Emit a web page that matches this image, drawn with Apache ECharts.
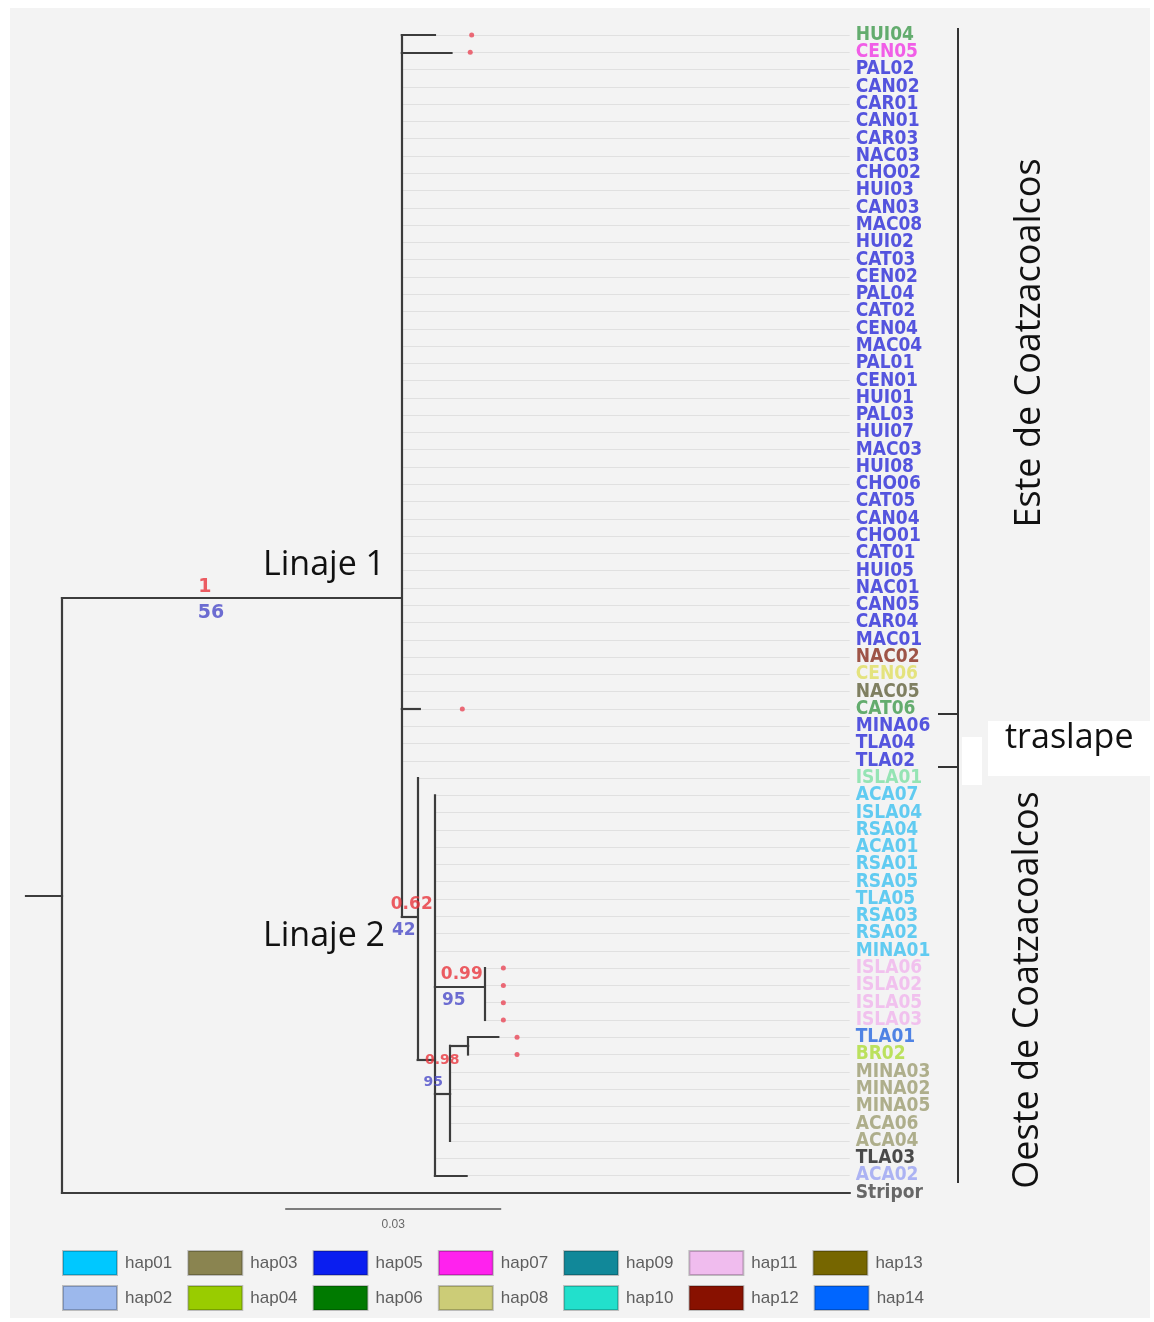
<!DOCTYPE html>
<html><head><meta charset="utf-8">
<script src="https://cdn.jsdelivr.net/npm/echarts@6/dist/echarts.min.js"></script>
<style>html,body{margin:0;padding:0;background:#fff;} #c{width:1154px;height:1322px;}</style>
</head><body><div id="c"></div>
<script>
// ---------------- DATA ----------------
const leafNames = ['HUI04','CEN05','PAL02','CAN02','CAR01','CAN01','CAR03','NAC03','CHO02','HUI03',
  'CAN03','MAC08','HUI02','CAT03','CEN02','PAL04','CAT02','CEN04','MAC04','PAL01',
  'CEN01','HUI01','PAL03','HUI07','MAC03','HUI08','CHO06','CAT05','CAN04','CHO01',
  'CAT01','HUI05','NAC01','CAN05','CAR04','MAC01','NAC02','CEN06','NAC05','CAT06',
  'MINA06','TLA04','TLA02','ISLA01','ACA07','ISLA04','RSA04','ACA01','RSA01','RSA05',
  'TLA05','RSA03','RSA02','MINA01','ISLA06','ISLA02','ISLA05','ISLA03','TLA01','BR02',
  'MINA03','MINA02','MINA05','ACA06','ACA04','TLA03','ACA02','Stripor'];
const leafHap = ['hap06','hap07','hap05','hap05','hap05','hap05','hap05','hap05','hap05','hap05',
  'hap05','hap05','hap05','hap05','hap05','hap05','hap05','hap05','hap05','hap05',
  'hap05','hap05','hap05','hap05','hap05','hap05','hap05','hap05','hap05','hap05',
  'hap05','hap05','hap05','hap05','hap05','hap05','hap12','hap08','hap13','hap06',
  'hap05','hap05','hap05','hap10','hap01','hap01','hap01','hap01','hap01','hap01',
  'hap01','hap01','hap01','hap01','hap11','hap11','hap11','hap11','hap14','hap04',
  'hap03','hap03','hap03','hap03','hap03','other','hap02','outgroup'];
const leafParent = ['A','A','A','A','A','A','A','A','A','A',
  'A','A','A','A','A','A','A','A','A','A',
  'A','A','A','A','A','A','A','A','A','A',
  'A','A','A','A','A','A','A','A','A','A',
  'A','A','A','B','C','C','C','C','C','C',
  'C','C','C','C','G','G','G','G','E','E',
  'D','D','D','D','D','C','C','root'];
const leafLength = [0.0046,0.0069,0,0,0,0,0,0,0,0,
  0,0,0,0,0,0,0,0,0,0,
  0,0,0,0,0,0,0,0,0,0,
  0,0,0,0,0,0,0,0,0,0.0025,
  0,0,0,0,0,0,0,0,0,0,
  0,0,0,0,0,0,0,0,0.0042,0,
  0,0,0,0,0,0,0.0044,0.1094];
const nodeNames  = ['root','A','B','C','G','D','E'];
const nodeParent = [null,'root','A','B','C','C','D'];
const nodeLength = [0,0.0472,0.0022,0.0024,0.0069,0.0021,0.0025];
const nodeRow    = [null,32.58,51.04,59.3,55.1,null,null];   // null -> midpoint of children
const supportNode      = ['A','B','C','G'];
const supportPosterior = ['1','0.62','0.98','0.99'];
const supportBootstrap = ['56','42','95','95'];
const tipDotLeaf = ['HUI04','CEN05','CAT06','ISLA06','ISLA02','ISLA05','ISLA03','TLA01','BR02'];
const tipDotX    = [0.0569,0.0567,0.0556,0.0613,0.0613,0.0613,0.0613,0.0632,0.0632];
const hapNames  = ['hap01','hap02','hap03','hap04','hap05','hap06','hap07','hap08','hap09','hap10','hap11','hap12','hap13','hap14'];
const hapColors = ['#00c8ff','#9cb8ec','#8a8450','#99cc00','#0a1ef0','#007a00','#ff22ee','#cccc77','#118899','#22e0cc','#f0bcee','#881100','#766600','#0066ff'];
const scaleBarLength = 0.03;
const scaleBarLabel = '0.03';

// ---------------- STYLE ----------------
const labelColor = {hap01:'#3cc0f0',hap02:'#9aa2f2',hap03:'#9c9c70',hap04:'#acdc38',hap05:'#2c2cd8',
  hap06:'#3f9a4c',hap07:'#f038e4',hap08:'#e0de60',hap10:'#7de0a4',hap11:'#f0b4ec',hap12:'#882c1c',
  hap13:'#62623c',hap14:'#2566e0',other:'#1e1e1e',outgroup:'#444444'};
const ROWMAX = 69, ROWPX = 17.28;

// ---------------- TREE LAYOUT (data units) ----------------
const children = {}; nodeNames.forEach(n => children[n] = []);
nodeNames.forEach((n,i) => { if (nodeParent[i]) children[nodeParent[i]].push({kind:'node', i}); });
leafNames.forEach((n,i) => children[leafParent[i]].push({kind:'leaf', i}));
function nodeDist(name){ const i = nodeNames.indexOf(name); return nodeParent[i] == null ? nodeLength[i] : nodeDist(nodeParent[i]) + nodeLength[i]; }
function childRow(c){ return c.kind === 'leaf' ? c.i : rowOf(nodeNames[c.i]); }
function rowOf(name){ const i = nodeNames.indexOf(name); if (nodeRow[i] != null) return nodeRow[i];
  const r = children[name].map(childRow); return (Math.min(...r) + Math.max(...r)) / 2; }
const leafDist = leafNames.map((n,i) => nodeDist(leafParent[i]) + leafLength[i]);
const labelX = Math.max(...leafDist);

const branchSegs = [];
nodeNames.forEach((n,i) => {
  const x = nodeDist(n), r = rowOf(n);
  const rows = children[n].map(childRow);
  branchSegs.push({coords:[[x, Math.min(...rows)], [x, Math.max(...rows)]]});
  if (nodeParent[i]) branchSegs.push({coords:[[nodeDist(nodeParent[i]), r], [x, r]]});
  else branchSegs.push({coords:[[x - 0.005, r], [x, r]]});
});
leafNames.forEach((n,i) => { if (leafLength[i] > 0) branchSegs.push({coords:[[nodeDist(leafParent[i]), i], [leafDist[i], i]]}); });
const guideSegs = leafNames.map((n,i) => ({coords:[[leafDist[i], i], [labelX, i]]})).filter(s => s.coords[0][0] < labelX);

const labelData = leafNames.map((n,i) => ({value:[labelX, i], name:n, label:{color: labelColor[leafHap[i]]}}));
const dotData = tipDotLeaf.map((n,k) => [tipDotX[k], leafNames.indexOf(n)]);

const postOffset = [[-27,-11],[2,-12],[16,1],[2,-13]];
const bootOffset = [[-21,15],[-6,14],[7,23],[-6,13]];
const postSize = [19,17,14,17], bootSize = [19,17,14,17];
const supportPost = [], supportBoot = [];
supportNode.forEach((n,k) => {
  const i = nodeNames.indexOf(n);
  const x = (nodeDist(nodeParent[i]) + nodeDist(n)) / 2, r = rowOf(n);
  supportPost.push({value:[x, r], name:supportPosterior[k], label:{offset:postOffset[k], fontSize:postSize[k]}});
  supportBoot.push({value:[x, r], name:supportBootstrap[k], label:{offset:bootOffset[k], fontSize:bootSize[k]}});
});
const scaleStart = 0.031, scaleRow = 67.9;

// ---------------- CHART ----------------
const chart = echarts.init(document.getElementById('c'), null, {renderer:'canvas'});
const hapSeries = hapNames.map((h,k) => ({type:'scatter', name:h, data:[], itemStyle:{color:hapColors[k], opacity:1, borderColor:'rgba(0,0,0,0.22)', borderWidth:1}}));
const legendBase = {icon:'rect', orient:'horizontal', itemWidth:54, itemHeight:24, itemGap:15, selectedMode:false,
  padding:0, left:62, itemStyle:{opacity:1},
  textStyle:{fontSize:17, color:'#5e5e5e', fontFamily:'Liberation Sans', padding:[0,0,0,3]}};
const FONT = "'Open Sans', 'Noto Sans', sans-serif";

chart.setOption({
  animation:false,
  backgroundColor:'#ffffff',
  grid:{left:26, top:35, width:828, height:ROWMAX*ROWPX},
  xAxis:{type:'value', min:-0.005, max:0.11, show:false},
  yAxis:{type:'value', min:0, max:ROWMAX, inverse:true, show:false},
  legend:[
    Object.assign({}, legendBase, {top:1250, data:hapNames.filter((h,k)=>k%2===0)}),
    Object.assign({}, legendBase, {top:1285, data:hapNames.filter((h,k)=>k%2===1)})
  ],
  graphic:[
    {type:'rect', z:-10, silent:true, shape:{x:10, y:8, width:1140, height:1310}, style:{fill:'#f3f3f3'}},
    {type:'rect', z:-5, silent:true, shape:{x:988, y:721, width:166, height:55}, style:{fill:'#ffffff'}},
    {type:'rect', z:-5, silent:true, shape:{x:962, y:737, width:20, height:48}, style:{fill:'#ffffff'}},
    {type:'line', shape:{x1:958, y1:28, x2:958, y2:1183}, style:{stroke:'#333', lineWidth:2}},
    {type:'line', shape:{x1:938, y1:714, x2:958, y2:714}, style:{stroke:'#333', lineWidth:2}},
    {type:'line', shape:{x1:938, y1:767, x2:958, y2:767}, style:{stroke:'#333', lineWidth:2}},
    {type:'text', x:1005, y:738, style:{text:'traslape', font:"34px " + FONT, fill:'#111', textVerticalAlign:'middle'}},
    {type:'text', x:1030, y:343, rotation:Math.PI/2, style:{text:'Este de Coatzacoalcos', font:"36px " + FONT, fill:'#111', textAlign:'center', textVerticalAlign:'middle'}},
    {type:'text', x:1028, y:990, rotation:Math.PI/2, style:{text:'Oeste de Coatzacoalcos', font:"36px " + FONT, fill:'#111', textAlign:'center', textVerticalAlign:'middle'}},
    {type:'text', x:263, y:565, style:{text:'Linaje 1', font:"34px " + FONT, fill:'#111', textVerticalAlign:'middle'}},
    {type:'text', x:263, y:936, style:{text:'Linaje 2', font:"34px " + FONT, fill:'#111', textVerticalAlign:'middle'}}
  ],
  series:[
    {type:'lines', coordinateSystem:'cartesian2d', silent:true, z:1, clip:false,
      lineStyle:{color:'#e0e0e0', width:1, opacity:1}, data:guideSegs},
    {type:'lines', coordinateSystem:'cartesian2d', silent:true, z:3, clip:false,
      lineStyle:{color:'#3c3c3c', width:2.2, opacity:1, cap:'square'}, data:branchSegs},
    {type:'lines', coordinateSystem:'cartesian2d', silent:true, z:3, clip:false,
      lineStyle:{color:'#555', width:1.5, opacity:1},
      data:[{coords:[[scaleStart, scaleRow],[scaleStart + scaleBarLength, scaleRow]]}]},
    {type:'scatter', silent:true, symbolSize:0, z:4,
      data:[{value:[scaleStart + scaleBarLength/2, scaleRow], name:scaleBarLabel}],
      label:{show:true, position:'bottom', distance:10, formatter:'{b}', fontSize:12, color:'#444', fontFamily:'Liberation Sans'}},
    {type:'scatter', silent:true, symbolSize:0, z:5, data:labelData,
      label:{show:true, position:'right', distance:6, formatter:'{b}', fontSize:19, fontWeight:'bold',
        fontFamily:"'DejaVu Sans Condensed', 'DejaVu Sans', sans-serif"}},
    {type:'scatter', silent:true, symbol:'circle', symbolSize:5, z:5, data:dotData,
      itemStyle:{color:'#e9505f', opacity:0.85}},
    {type:'scatter', silent:true, symbolSize:0, z:6, data:supportPost,
      label:{show:true, position:'inside', formatter:'{b}', color:'#e8343c', fontWeight:'bold', fontFamily:'DejaVu Sans'}},
    {type:'scatter', silent:true, symbolSize:0, z:6, data:supportBoot,
      label:{show:true, position:'inside', formatter:'{b}', color:'#4a4ac8', fontWeight:'bold', fontFamily:'DejaVu Sans'}}
  ].concat(hapSeries)
});
</script></body></html>
